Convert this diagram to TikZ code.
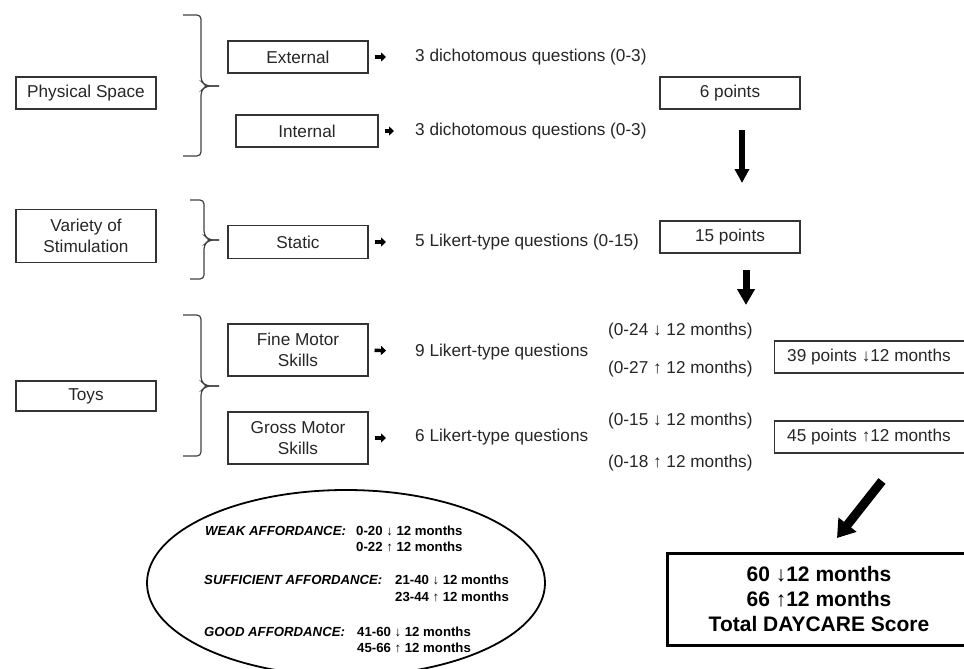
\documentclass[tikz,border=0pt]{standalone}
\usepackage{fontspec}
\setmainfont{Liberation Sans}
\usetikzlibrary{arrows.meta, positioning, calc}

\begin{document}
\begin{tikzpicture}[x=1pt, y=-1pt,
  box/.style={draw=black!80, line width=1.1pt, minimum width=140pt, minimum height=32pt,
    inner sep=2pt, align=center, text=black!85, font=\fontsize{17.2}{21}\selectfont},
  txt/.style={inner sep=0pt, anchor=west, text=black!85, font=\fontsize{17.2}{21}\selectfont},
  ell/.style={inner sep=0pt, anchor=west, font=\fontsize{13.2}{15}\selectfont\bfseries},
  brc/.style={draw=black!75, line width=1.2pt, rounded corners=4pt},
  smallarr/.style={-{Triangle[length=5pt,width=9pt]}, line width=3.5pt, shorten <=6pt},
  bigarr/.style={-{Triangle[length=14pt,width=14pt]}, line width=5.5pt}
]
  \useasboundingbox (0,0) rectangle (964,669);
  \clip (0,0) rectangle (964,669);

  % Left column
  \node[box] (phys) at (86,93) {Physical Space};
  \node[box, minimum height=53pt] (variety) at (86,236) {Variety of\\Stimulation};
  \node[box, minimum height=30pt] (toys) at (86,396) {Toys};

  % Braces
  \draw[brc] (183,15) -- (201,15) -- (201,81) -- (206,86) -- (219,86);
  \draw[brc] (219,86) -- (206,86) -- (201,91) -- (201,156) -- (183,156);
  \draw[brc] (190,200) -- (204,200) -- (204,235) -- (209,240) -- (219,240);
  \draw[brc] (219,240) -- (209,240) -- (204,245) -- (204,279) -- (190,279);
  \draw[brc] (183,315) -- (201,315) -- (201,381) -- (206,386) -- (219,386);
  \draw[brc] (219,386) -- (206,386) -- (201,391) -- (201,456) -- (183,456);

  % Sub-categories
  \node[box] (ext) at (298,57) {External};
  \node[box, minimum width=142pt] (int) at (307,131) {Internal};
  \node[box, minimum height=33pt] (static) at (298,242) {Static};
  \node[box, minimum height=52pt] (fine) at (298,350) {Fine Motor\\Skills};
  \node[box, minimum height=52pt] (gross) at (298,438) {Gross Motor\\Skills};

  % Questions
  \node[txt] (qext) at (415,57) {3 dichotomous questions (0-3)};
  \node[txt] (qint) at (415,131) {3 dichotomous questions (0-3)};
  \node[txt] (qstat) at (415,242) {5 Likert-type questions (0-15)};
  \node[txt] (qfine) at (415,352) {9 Likert-type questions};
  \node[txt] (qgross) at (415,437) {6 Likert-type questions};

  \draw[smallarr, shorten >=29pt] (ext.east) -- (qext.west);
  \draw[smallarr, shorten >=21pt] (int.east) -- (qint.west);
  \draw[smallarr, shorten >=29pt] (static.east) -- (qstat.west);
  \draw[smallarr, shorten >=29pt] (fine.east) -- (qfine.west);
  \draw[smallarr, shorten >=29pt] (gross.east) -- (qgross.west |- gross.east);

  % Ranges
  \node[txt] (rfineA) at (608,331) {(0-24 ↓ 12 months)};
  \node[txt] (rfineB) at (608,369) {(0-27 ↑ 12 months)};
  \node[txt] (rgrossA) at (608,421) {(0-15 ↓ 12 months)};
  \node[txt] (rgrossB) at (608,463) {(0-18 ↑ 12 months)};

  % Points
  \node[box] (p6) at (730,93) {6 points};
  \node[box] (p15) at (730,237) {15 points};
  \node[box, minimum width=200pt, anchor=west] (p39) at (774,357) {};
  \node[txt] (t39) at (787,357) {39 points ↓12 months};
  \node[box, minimum width=200pt, anchor=west] (p45) at (774,437) {};
  \node[txt] (t45) at (787,437) {45 points ↑12 months};

  % Total
  \node[box, draw=black, line width=3pt, minimum width=304pt, minimum height=92pt,
    text=black, font=\fontsize{21}{25}\selectfont\bfseries] (total) at (819,599)
    {60 ↓12 months\\66 ↑12 months\\Total DAYCARE Score};

  % Big arrows
  \coordinate (a1s) at (742,130);
  \coordinate (a1e) at (742,183);
  \coordinate (a2s) at (746,270);
  \coordinate (a2e) at (746,305);
  \coordinate (a3s) at (882,481);
  \coordinate (a3e) at (837,538);
  \draw[bigarr] (a1s) -- (a1e);
  \draw[bigarr, line width=7pt, -{Triangle[length=16pt,width=17pt]}] (a2s) -- (a2e);
  \draw[bigarr, line width=9pt, -{Triangle[length=17pt,width=22pt]}] (a3s) -- (a3e);

  % Affordance ellipse
  \draw[line width=1.8pt] (346,583) ellipse [x radius=199pt, y radius=93pt];
  \node[ell] (weak) at (205,531) {\itshape WEAK AFFORDANCE:};
  \node[ell] (weakA) at (356,531) {0-20 ↓ 12 months};
  \node[ell] (weakB) at (356,547) {0-22 ↑ 12 months};
  \node[ell] (suff) at (204,580) {\itshape SUFFICIENT AFFORDANCE:};
  \node[ell] (suffA) at (395,580) {21-40 ↓ 12 months};
  \node[ell] (suffB) at (395,597) {23-44 ↑ 12 months};
  \node[ell] (good) at (204,632) {\itshape GOOD AFFORDANCE:};
  \node[ell] (goodA) at (357,632) {41-60 ↓ 12 months};
  \node[ell] (goodB) at (357,648) {45-66 ↑ 12 months};
\end{tikzpicture}
\end{document}
